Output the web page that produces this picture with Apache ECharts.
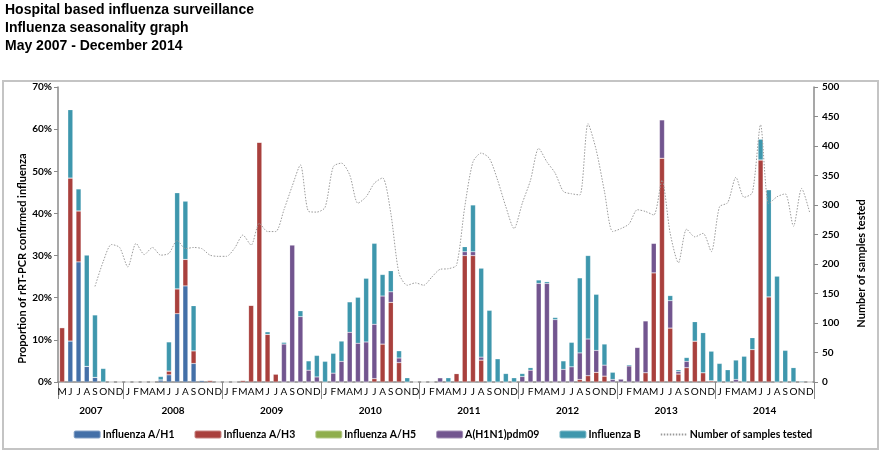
<!DOCTYPE html>
<html>
<head>
<meta charset="utf-8">
<script src="https://cdn.jsdelivr.net/npm/echarts@6/dist/echarts.min.js"></script>
<style>
  html, body { margin: 0; padding: 0; background: #fff; }
  #chart { width: 885px; height: 460px; }
</style>
</head>
<body>
<div id="chart"></div>
<script>
// months: May 2007 - Dec 2014
const firstYearMonths = ["M", "J", "J", "A", "S", "O", "N", "D"];
const yearMonths = ["J", "F", "M", "A", "M", "J", "J", "A", "S", "O", "N", "D"];
const years = ["2007", "2008", "2009", "2010", "2011", "2012", "2013", "2014"];

// proportion (%) by type, one stacked piece per month
const h1 = [
  0, 9.7, 28.5, 3.7, 1.1, 0, 0, 0,
  0, 0, 0, 0, 0.5, 1.7, 16.2, 22.8, 4.4, 0.4, 0, 0,
  0, 0, 0, 0, 0, 0, 0, 0, 0, 0, 0, 0,
  0, 0, 0, 0, 0, 0, 0, 0, 0, 0, 0, 0,
  0, 0, 0, 0, 0, 0, 0, 0, 0, 0, 0, 0,
  0, 0, 0, 0, 0, 0, 0, 0, 0, 0, 0, 0,
  0, 0, 0, 0, 0, 0, 0, 0, 0, 0, 0, 0,
  0, 0, 0, 0, 0, 0, 0, 0, 0, 0, 0, 0
];
const h3 = [
  12.9, 38.7, 12.1, 0, 0, 0, 0, 0,
  0, 0, 0, 0, 0, 0.9, 5.9, 6.3, 3.0, 0, 0.4, 0,
  0, 0, 0.4, 18.2, 56.9, 11.3, 1.9, 0, 0, 0, 0, 0,
  0, 0, 0, 0, 0, 0, 0.8, 9.0, 18.9, 4.6, 0, 0,
  0, 0, 0, 0, 2.0, 30.0, 30.0, 5.2, 0, 0, 0, 0,
  0, 0, 0, 0, 0, 0, 0, 0.6, 1.5, 2.3, 1.4, 0,
  0, 0, 0, 2.2, 25.9, 53.1, 12.8, 1.9, 3.4, 9.7, 2.2, 0.3,
  0, 0, 0, 0, 7.7, 52.7, 20.2, 0, 0, 0, 0, 0
];
const h5 = [
  0, 0, 0, 0, 0, 0, 0, 0,
  0, 0, 0, 0, 0, 0, 0, 0, 0, 0, 0, 0,
  0, 0, 0, 0, 0, 0, 0, 0, 0, 0, 0, 0,
  0, 0, 0, 0, 0, 0, 0, 0, 0, 0, 0, 0,
  0, 0, 0, 0, 0, 0, 0, 0, 0, 0, 0, 0,
  0, 0, 0, 0, 0, 0, 0, 0, 0, 0, 0, 0,
  0, 0, 0, 0, 0, 0, 0, 0, 0, 0, 0, 0,
  0, 0, 0, 0, 0, 0, 0, 0, 0, 0, 0, 0
];
const pdm09 = [
  0, 0, 0, 0, 0, 0, 0, 0,
  0, 0, 0, 0, 0, 0, 0, 0, 0, 0, 0, 0,
  0, 0, 0, 0, 0, 0, 0, 9.0, 32.5, 15.5, 2.8, 1.2,
  0, 2.1, 4.9, 11.8, 9.2, 9.5, 12.9, 11.4, 2.5, 1.1, 0, 0,
  0, 0, 1.0, 0, 0, 0.9, 0.9, 0.7, 0, 0, 0, 0,
  1.3, 2.8, 23.4, 23.4, 14.8, 3.0, 3.6, 6.3, 8.7, 5.2, 2.6, 0.6,
  0.7, 3.8, 8.2, 12.3, 7.0, 9.1, 6.5, 0.6, 1.5, 0, 0, 0,
  0, 0, 0.6, 0, 0, 0, 0, 0, 0, 0, 0, 0
];
const fluB = [
  0, 16.2, 5.2, 26.4, 14.8, 3.2, 0, 0,
  0, 0, 0, 0, 0.8, 6.9, 22.8, 13.8, 10.7, 0, 0, 0,
  0, 0, 0, 0, 0, 0.6, 0, 0.4, 0, 1.4, 2.2, 5.1,
  4.9, 4.7, 4.8, 7.2, 10.9, 15.1, 19.2, 5.1, 5.0, 1.7, 1.0, 0,
  0, 0, 0, 1.0, 0, 1.2, 11.1, 21.1, 17.0, 5.5, 2.0, 1.0,
  0.7, 0.6, 0.8, 0.4, 0.5, 2.0, 5.8, 17.8, 19.8, 13.3, 5.0, 1.7,
  0, 0.3, 0, 0, 0, 0, 1.2, 0.4, 0.9, 4.6, 9.5, 7.0,
  4.4, 2.9, 4.6, 6.1, 2.8, 4.9, 25.4, 25.1, 7.5, 3.4, 0.2, 0
];
// number of samples tested
const samples = [
  null, null, null, null, 162, 204, 233, 228,
  195, 235, 216, 228, 215, 218, 240, 226, 228, 226, 215, 213,
  213, 227, 249, 232, 269, 255, 255, 292, 332, 368, 289, 288,
  296, 365, 371, 351, 303, 314, 337, 346, 286, 184, 164, 168,
  164, 178, 191, 192, 198, 297, 373, 388, 379, 342, 297, 260,
  303, 342, 396, 373, 354, 323, 319, 317, 438, 393, 323, 255,
  260, 268, 292, 289, 283, 342, 252, 202, 259, 246, 252, 221,
  297, 304, 347, 313, 321, 436, 302, 314, 319, 264, 328, 286
];

// category labels and year blocks
let months = firstYearMonths.slice();
let yearStarts = [0];
for (let i = 1; i < years.length; i++) {
  yearStarts.push(months.length);
  months = months.concat(yearMonths);
}
const total = months.length;
const yearBounds = yearStarts.concat([total]);
const yearCenters = yearStarts.map((s, i) => (s + yearBounds[i + 1]) / 2);

const font = "Lato, 'Liberation Sans', Arial, sans-serif";
const axisGray = "#8a8a8a";

function barSeries(name, data, color) {
  return {
    name: name,
    type: "bar",
    stack: "flu",
    data: data,
    barWidth: 5,
    itemStyle: { color: color, borderColor: "rgba(255,255,255,0.35)", borderWidth: 0.5 },
  };
}

const chart = echarts.init(document.getElementById("chart"));

chart.setOption({
  animation: false,
  title: {
    text: "Hospital based influenza surveillance\nInfluenza seasonality graph\nMay 2007 - December 2014",
    left: 5,
    top: 1,
    padding: 0,
    textStyle: {
      fontFamily: "'Liberation Sans', Arial, sans-serif",
      fontSize: 14,
      fontWeight: "bold",
      lineHeight: 18,
      color: "#000",
    },
  },
  graphic: [
    {
      type: "rect",
      shape: { x: 3, y: 81, width: 875, height: 368 },
      style: { fill: "none", stroke: "#c4c4c4", lineWidth: 2 },
      silent: true,
    },
  ],
  legend: {
    bottom: 15,
    left: "center",
    itemWidth: 27,
    itemHeight: 8,
    itemGap: 19,
    textStyle: { fontFamily: font, fontSize: 10.5, fontWeight: "bold", color: "#000", padding: [0, 0, 0, -3] },
    data: [
      "Influenza A/H1",
      "Influenza A/H3",
      "Influenza A/H5",
      "A(H1N1)pdm09",
      "Influenza B",
      { name: "Number of samples tested", itemStyle: { opacity: 0 } },
    ],
  },
  grid: { left: 58, right: 71, top: 87, bottom: 78 },
  xAxis: [
    {
      type: "category",
      data: months,
      axisLine: { lineStyle: { color: axisGray, width: 1.5 } },
      axisTick: { show: false },
      axisLabel: { interval: 0, fontFamily: font, fontSize: 10, color: "#000", margin: 5 },
    },
    {
      type: "value",
      min: 0,
      max: total,
      position: "bottom",
      axisLine: { show: false },
      splitLine: { show: false },
      axisTick: {
        show: true,
        length: 17,
        customValues: yearBounds,
        lineStyle: { color: axisGray },
      },
      axisLabel: {
        customValues: yearCenters,
        margin: 24,
        fontFamily: font,
        fontSize: 10,
        fontWeight: "bold",
        color: "#000",
        formatter: (v) => years[yearCenters.indexOf(v)] || "",
      },
    },
  ],
  yAxis: [
    {
      type: "value",
      min: 0,
      max: 70,
      interval: 10,
      name: "Proportion of rRT-PCR confirmed influenza",
      nameLocation: "middle",
      nameGap: 30,
      nameMoveOverlap: false,
      nameTextStyle: { fontFamily: font, fontSize: 11, fontWeight: "bold", color: "#000", padding: [0, 48, 0, 0] },
      axisLine: { show: true, lineStyle: { color: axisGray, width: 1.5 } },
      axisTick: { show: true, length: 4, lineStyle: { color: axisGray } },
      splitLine: { show: false },
      axisLabel: { formatter: "{value}%", fontFamily: font, fontSize: 10, fontWeight: "bold", color: "#000", margin: 6 },
    },
    {
      type: "value",
      min: 0,
      max: 500,
      interval: 50,
      name: "Number of samples tested",
      nameLocation: "middle",
      nameGap: 42,
      nameRotate: 90,
      nameMoveOverlap: false,
      nameTextStyle: { fontFamily: font, fontSize: 11, fontWeight: "bold", color: "#000", padding: [0, 58, 0, 0] },
      axisLine: { show: true, lineStyle: { color: axisGray, width: 1.5 } },
      axisTick: { show: true, length: 4, lineStyle: { color: axisGray } },
      splitLine: { show: false },
      axisLabel: { fontFamily: font, fontSize: 10, fontWeight: "bold", color: "#000", margin: 8 },
    },
  ],
  series: [
    barSeries("Influenza A/H1", h1, "#4470a8"),
    barSeries("Influenza A/H3", h3, "#a9403d"),
    barSeries("Influenza A/H5", h5, "#8fae4c"),
    barSeries("A(H1N1)pdm09", pdm09, "#72558f"),
    barSeries("Influenza B", fluB, "#3e97ad"),
    {
      name: "Number of samples tested",
      type: "line",
      yAxisIndex: 1,
      data: samples,
      smooth: 0.25,
      symbol: "none",
      itemStyle: { color: "#9a9a9a" },
      lineStyle: { color: "#9a9a9a", width: 1, type: [1.5, 1.5] },
    },
  ],
});
</script>
</body>
</html>
